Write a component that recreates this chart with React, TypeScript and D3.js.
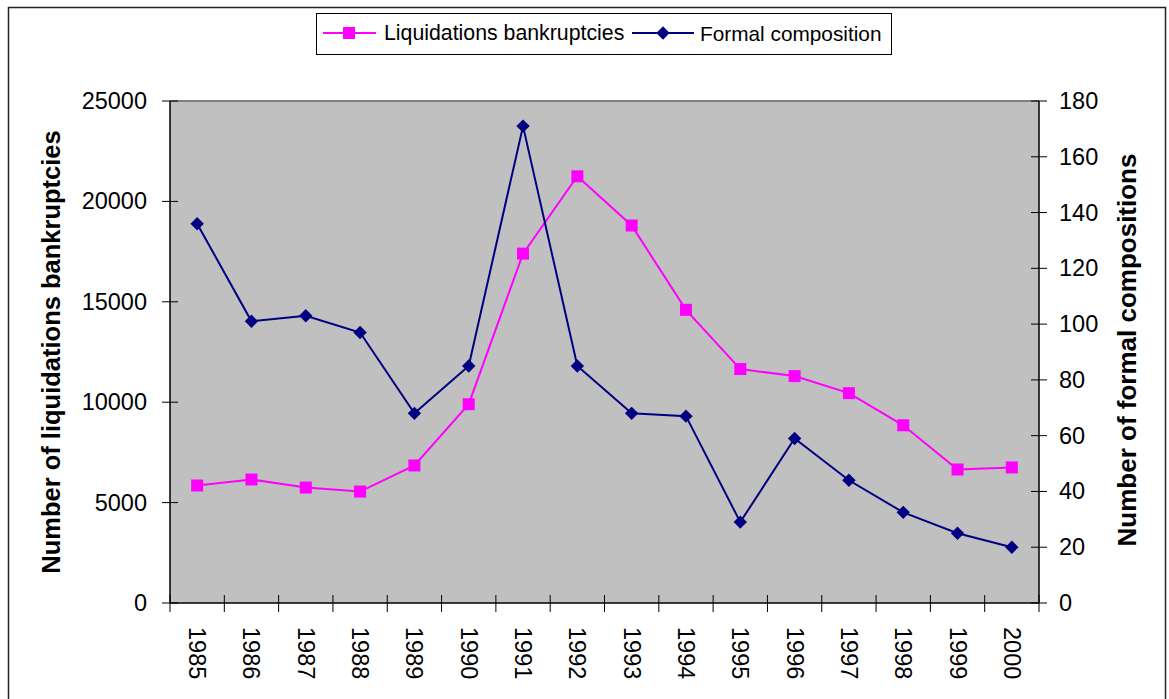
import React from "react";
import * as d3 from "d3";

const years: string[] = ["1985","1986","1987","1988","1989","1990","1991","1992","1993","1994","1995","1996","1997","1998","1999","2000"];
const liquidations: number[] = [5850,6150,5750,5550,6850,9900,17400,21250,18800,14600,11650,11300,10450,8850,6650,6750];
const formalComposition: number[] = [136,101,103,97,68,85,171,85,68,67,29,59,44,32.5,25,20];
const leftTicks: number[] = [0,5000,10000,15000,20000,25000];
const rightTicks: number[] = [0,20,40,60,80,100,120,140,160,180];
const seriesNames: string[] = ["Liquidations bankruptcies","Formal composition"];
const axisTitles: string[] = ["Number of liquidations bankruptcies","Number of formal compositions"];

const W = 1169, H = 699;
const PL = 170, PR = 1039, PT = 101, PB = 603;
const PINK = "#FF00FF", NAVY = "#000080";
const FONT = "'Liberation Sans', Arial, sans-serif";

export default function App() {
  const x = d3.scaleBand<string>().domain(years).range([PL, PR]).padding(0);
  const yL = d3.scaleLinear().domain([0, 25000]).range([PB, PT]);
  const yR = d3.scaleLinear().domain([0, 180]).range([PB, PT]);
  const cx = (y: string) => (x(y) as number) + x.bandwidth() / 2;

  const lineL = d3.line<number>().x((_, i) => cx(years[i])).y(d => yL(d));
  const lineR = d3.line<number>().x((_, i) => cx(years[i])).y(d => yR(d));
  const sq = d3.symbol(d3.symbolSquare, 144)();
  const dia = d3.symbol(d3.symbolSquare, 90)();

  const boundaries = [...years.map(y => x(y) as number), PR];

  return (
    <div style={{ position: "absolute", left: 0, top: 0 }}>
      <svg width={W} height={H} style={{ display: "block", fontFamily: FONT }}>
        <rect x={0} y={0} width={W} height={H} fill="#fff" />
        <rect x={8.5} y={7.5} width={1157} height={700} fill="#fff" stroke="#222" strokeWidth={1.5} />
        {/* plot area */}
        <rect x={PL} y={PT} width={PR - PL} height={PB - PT} fill="#C0C0C0" />
        <line x1={PL} x2={PR} y1={PT} y2={PT} stroke="#808080" strokeWidth={2} />
        {/* axes */}
        <line x1={PL} x2={PL} y1={PT} y2={PB} stroke="#000" strokeWidth={1.5} />
        <line x1={PR} x2={PR} y1={PT} y2={PB} stroke="#000" strokeWidth={1.5} />
        <line x1={PL} x2={PR} y1={PB} y2={PB} stroke="#000" strokeWidth={1.5} />
        {leftTicks.map(t => (
          <g key={"l" + t}>
            <line x1={162} x2={178} y1={yL(t)} y2={yL(t)} stroke="#000" strokeWidth={1} />
            <text x={147} y={yL(t)} textAnchor="end" dominantBaseline="central" fontSize={23.5} fill="#000">{t}</text>
          </g>
        ))}
        {rightTicks.map(t => (
          <g key={"r" + t}>
            <line x1={PR - 8} x2={PR + 8} y1={yR(t)} y2={yR(t)} stroke="#000" strokeWidth={1} />
            <text x={1059} y={yR(t)} textAnchor="start" dominantBaseline="central" fontSize={23.5} fill="#000">{t}</text>
          </g>
        ))}
        {boundaries.map((b, i) => (
          <line key={"b" + i} x1={b} x2={b} y1={PB - 8} y2={PB + 9} stroke="#000" strokeWidth={1} />
        ))}
        {years.map(y => (
          <text key={"y" + y} transform={`translate(${cx(y)},627) rotate(90)`} textAnchor="start" dominantBaseline="central" fontSize={23.5} fill="#000">{y}</text>
        ))}
        {/* axis titles */}
        <text transform={`translate(51,352) rotate(-90)`} textAnchor="middle" dominantBaseline="central" fontSize={25.5} fontWeight="bold" fill="#000">{axisTitles[0]}</text>
        <text transform={`translate(1127,350) rotate(-90)`} textAnchor="middle" dominantBaseline="central" fontSize={26} fontWeight="bold" fill="#000">{axisTitles[1]}</text>
        {/* series */}
        <path d={lineL(liquidations) || ""} fill="none" stroke={PINK} strokeWidth={2} />
        {liquidations.map((v, i) => (
          <path key={"p" + i} d={sq || ""} transform={`translate(${cx(years[i])},${yL(v)})`} fill={PINK} />
        ))}
        <path d={lineR(formalComposition) || ""} fill="none" stroke={NAVY} strokeWidth={2} />
        {formalComposition.map((v, i) => (
          <path key={"n" + i} d={dia || ""} transform={`translate(${cx(years[i])},${yR(v)}) rotate(45)`} fill={NAVY} />
        ))}
        {/* legend */}
        <rect x={316.5} y={13.5} width={575} height={41} fill="#fff" stroke="#000" strokeWidth={1} />
        <line x1={323} x2={376} y1={33} y2={33} stroke={PINK} strokeWidth={2} />
        <path d={sq || ""} transform="translate(349,33)" fill={PINK} />
        <text x={384} y={33} dominantBaseline="central" fontSize={21.3} fill="#000">{seriesNames[0]}</text>
        <line x1={632} x2={694} y1={33} y2={33} stroke={NAVY} strokeWidth={2} />
        <path d={dia || ""} transform="translate(663,33) rotate(45)" fill={NAVY} />
        <text x={700} y={33} dominantBaseline="central" fontSize={20.8} fill="#000">{seriesNames[1]}</text>
      </svg>
    </div>
  );
}
